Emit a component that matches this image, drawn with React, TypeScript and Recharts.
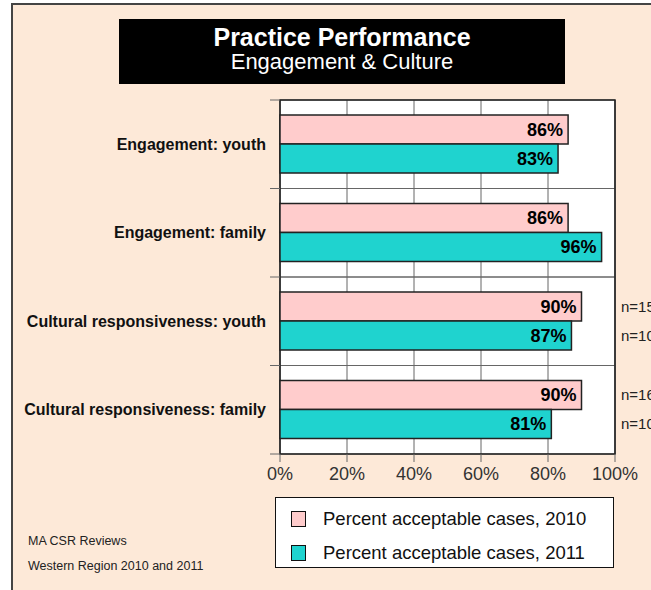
import React from "react";
import {
  BarChart,
  Bar,
  XAxis,
  YAxis,
  CartesianGrid,
  LabelList,
  ReferenceArea,
  Legend,
} from "recharts";

const categories = [
  "Engagement: youth",
  "Engagement: family",
  "Cultural responsiveness: youth",
  "Cultural responsiveness: family",
];
const pct2010 = [86, 86, 90, 90];
const pct2011 = [83, 96, 87, 81];
const n2010 = ["", "", "n=15", "n=16"];
const n2011 = ["", "", "n=10", "n=10"];
const xTicks = [0, 20, 40, 60, 80, 100];
const seriesNames = ["Percent acceptable cases, 2010", "Percent acceptable cases, 2011"];
const seriesColors = ["#ffcccc", "#1fd3cf"];
const titleText = "Practice Performance";
const subtitleText = "Engagement & Culture";
const notes = ["MA CSR Reviews", "Western Region 2010 and 2011"];

const data = categories.map((c, i) => ({
  category: c,
  y2010: pct2010[i],
  y2011: pct2011[i],
  n2010: n2010[i],
  n2011: n2011[i],
}));

const FONT = "'Liberation Sans', Arial, Helvetica, sans-serif";
const TICK_SIZE = 10;
const TICK_MARGIN = 3;

const makeNLabel = (vals: number[]) => (props: any) => {
  const { x, y, width, height, value, index } = props;
  if (!value) return null;
  const v = vals[index];
  const right = Number(x) + (Number(width) / v) * 100;
  return (
    <text
      x={right + 6}
      y={Number(y) + Number(height) / 2}
      dy="0.35em"
      fontSize={15}
      fill="#222"
      fontFamily={FONT}
    >
      {value}
    </text>
  );
};

const CategoryTick = (props: any) => {
  const { x, y, payload, index } = props;
  const half = payload && typeof payload.offset === "number" ? payload.offset : 0;
  const plotLeft = Number(x) + TICK_MARGIN + TICK_SIZE;
  const last = index === categories.length - 1;
  return (
    <g>
      {half > 0 && (
        <line x1={plotLeft - TICK_SIZE} x2={plotLeft} y1={y - half} y2={y - half} stroke="#666" strokeWidth={1} />
      )}
      {half > 0 && last && (
        <line x1={plotLeft - TICK_SIZE} x2={plotLeft} y1={y + half} y2={y + half} stroke="#666" strokeWidth={1} />
      )}
      <text
        x={x - 1}
        y={y}
        dy="0.35em"
        textAnchor="end"
        fontSize={16}
        fontWeight="bold"
        fill="#111"
        fontFamily={FONT}
      >
        {payload.value}
      </text>
    </g>
  );
};

const LegendBox = () => (
  <div
    style={{
      width: 339,
      height: 71,
      boxSizing: "border-box",
      border: "1.5px solid #111",
      background: "#fff",
      fontFamily: FONT,
      paddingTop: 6,
    }}
  >
    {seriesNames.map((name, i) => (
      <div
        key={name}
        style={{ display: "flex", alignItems: "center", height: 30, marginBottom: i === 0 ? 4 : 0 }}
      >
        <div
          style={{
            width: 13,
            height: 14,
            marginLeft: 15,
            marginRight: 17,
            border: "1.5px solid #111",
            background: seriesColors[i],
          }}
        />
        <span style={{ fontSize: 18.5, color: "#111" }}>{name}</span>
      </div>
    ))}
  </div>
);

export default function App() {
  return (
    <div style={{ position: "absolute", left: 0, top: 0, width: 651, height: 590, background: "#fff", overflow: "hidden" }}>
      <div
        style={{
          position: "absolute",
          left: 11,
          top: 3,
          width: 640,
          height: 587,
          borderLeft: "2px solid #444",
          borderTop: "2px solid #444",
          background: "#fde9d8",
        }}
      />
      <div style={{ position: "absolute", left: 0, top: 0 }}>
        <BarChart
          width={651}
          height={590}
          data={data}
          layout="vertical"
          margin={{ top: 100, right: 36, left: 0, bottom: 106 }}
          barSize={29}
          barGap={0}
        >
          <rect x={119} y={19} width={446} height={65} fill="#000" />
          <text x={342} y={46} textAnchor="middle" fill="#fff" fontSize={25} fontWeight="bold" fontFamily={FONT}>
            {titleText}
          </text>
          <text x={342} y={69} textAnchor="middle" fill="#fff" fontSize={22} fontFamily={FONT}>
            {subtitleText}
          </text>
          <text x={28} y={545} fontSize={12.5} fill="#222" fontFamily={FONT}>
            {notes[0]}
          </text>
          <text x={28} y={570} fontSize={12.5} fill="#222" fontFamily={FONT}>
            {notes[1]}
          </text>
          <CartesianGrid horizontal={false} fill="#fff" stroke="#666" strokeWidth={1} />
          {categories.map((c) => (
            <ReferenceArea
              key={c}
              y1={c}
              y2={c}
              x1={0}
              x2={100}
              fill="none"
              fillOpacity={0}
              stroke="#666"
              strokeWidth={1}
            />
          ))}
          <XAxis
            type="number"
            domain={[0, 100]}
            ticks={xTicks}
            tickFormatter={(v: number) => `${v}%`}
            height={30}
            tickSize={8}
            tickMargin={5}
            axisLine={false}
            tickLine={{ stroke: "#666" }}
            tick={{ fontSize: 18, fill: "#333", fontFamily: FONT }}
            interval={0}
          />
          <YAxis
            type="category"
            dataKey="category"
            width={280}
            axisLine={false}
            tickLine={false}
            tickSize={TICK_SIZE}
            tickMargin={TICK_MARGIN}
            interval={0}
            tick={<CategoryTick />}
          />
          <Bar dataKey="y2010" name={seriesNames[0]} fill={seriesColors[0]} stroke="#222" strokeWidth={1.5} isAnimationActive={false}>
            <LabelList
              dataKey="y2010"
              position="insideRight"
              offset={5}
              formatter={(v: any) => `${v}%`}
              style={{ fontSize: 18, fontWeight: "bold", fill: "#000", fontFamily: FONT }}
            />
            <LabelList dataKey="n2010" content={makeNLabel(pct2010)} />
          </Bar>
          <Bar dataKey="y2011" name={seriesNames[1]} fill={seriesColors[1]} stroke="#222" strokeWidth={1.5} isAnimationActive={false}>
            <LabelList
              dataKey="y2011"
              position="insideRight"
              offset={5}
              formatter={(v: any) => `${v}%`}
              style={{ fontSize: 18, fontWeight: "bold", fill: "#000", fontFamily: FONT }}
            />
            <LabelList dataKey="n2011" content={makeNLabel(pct2011)} />
          </Bar>
          <ReferenceArea
            x1={0}
            x2={100}
            fill="none"
            fillOpacity={0}
            stroke="#222"
            strokeWidth={1.5}
            ifOverflow="visible"
          />
          <Legend
            layout="vertical"
            align="center"
            verticalAlign="middle"
            content={() => <LegendBox />}
            wrapperStyle={{ position: "absolute", left: 275, top: 497, width: 339, height: 71 }}
          />
        </BarChart>
      </div>
    </div>
  );
}
